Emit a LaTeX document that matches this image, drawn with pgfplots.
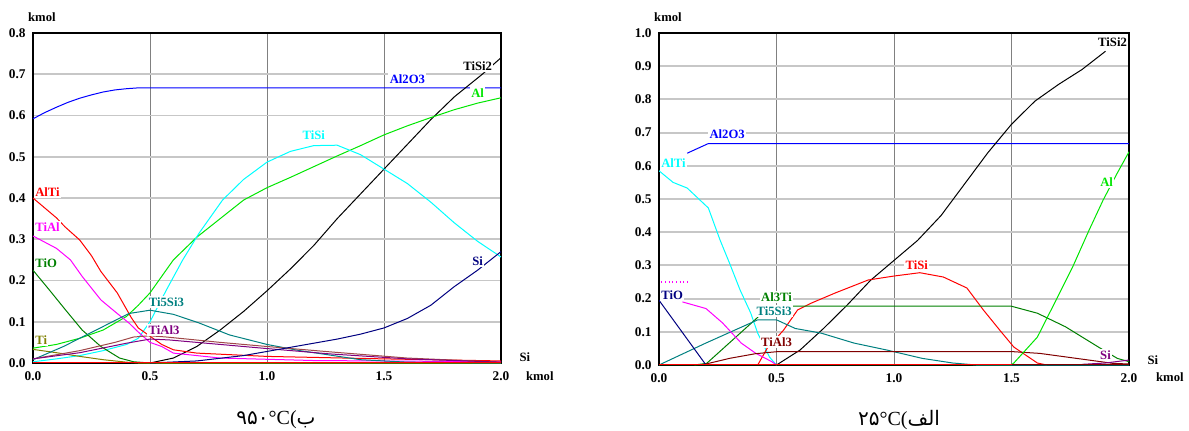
\documentclass[border=0pt]{standalone}
\usepackage{pgfplots}
\pgfplotsset{compat=1.18}
\usepackage{fontspec}
\setmainfont{Liberation Serif}
\newfontfamily\arabicfont[Script=Arabic]{DejaVu Sans}
\TeXXeTstate=1
\definecolor{cAlOx}{HTML}{0000FF}
\definecolor{cAl}{HTML}{00E600}
\definecolor{cTiSi}{HTML}{00FFFF}
\definecolor{cAlTi}{HTML}{FF0000}
\definecolor{cTiAl}{HTML}{FF00FF}
\definecolor{cDG}{HTML}{008000}
\definecolor{cOl}{HTML}{808000}
\definecolor{cTeal}{HTML}{008080}
\definecolor{cPur}{HTML}{800080}
\definecolor{cNavy}{HTML}{000080}
\definecolor{cMar}{HTML}{800000}
\definecolor{cRose}{HTML}{A04848}
\tikzset{lab/.style={font=\bfseries\fontsize{9.5}{10}\selectfont, fill=white, inner sep=1pt},
  axl/.style={font=\bfseries\fontsize{9.5}{10}\selectfont, inner sep=0pt}}
\pgfplotsset{
  chem/.style={
    scale only axis,
    clip mode=individual,
    xmin=0, xmax=2,
    xtick={0,0.5,1,1.5,2},
    grid=major,
    x grid style={draw=gray, line width=0.7pt},
    y grid style={draw=black!22, line width=1.4pt},
    major tick length=0pt,
    tick style={draw=none},
    axis line style={line width=1.4pt, black},
    /pgf/number format/assume math mode=true,
    /pgf/number format/.cd, fixed, fixed zerofill, precision=1,
    /pgfplots/.cd,
    tick label style={font=\bfseries\fontsize{10}{10}\selectfont},
    yticklabel style={xshift=-2pt},
    xticklabel style={yshift=-3pt},
    every axis plot/.append style={line width=0.75pt, mark=none},
  },
}
\begin{document}
\begin{tikzpicture}
\useasboundingbox (0,0) rectangle (891.75pt,322.5pt);
%% ---------------- LEFT: 950 C ----------------
\begin{axis}[chem, at={(24.75pt,50.25pt)}, anchor=south west,
  width=351pt, height=247.5pt, ymin=0, ymax=0.8,
  ytick={0,0.1,0.2,0.3,0.4,0.5,0.6,0.7,0.8}]
\addplot[cAlOx] coordinates {(0,0.592)(0.05,0.607)(0.1,0.62)(0.15,0.632)(0.2,0.642)(0.25,0.65)(0.3,0.657)(0.35,0.662)(0.4,0.665)(0.45,0.667)(2.0,0.667)};
\addplot[black] coordinates {(0.5,0)(0.6,0.012)(0.7,0.04)(0.8,0.08)(0.9,0.125)(1.0,0.175)(1.1,0.228)(1.2,0.285)(1.3,0.35)(1.4,0.41)(1.5,0.47)(1.6,0.53)(1.7,0.59)(1.8,0.645)(1.92,0.70)(2.0,0.74)};
\addplot[cAl] coordinates {(0,0.036)(0.1,0.045)(0.2,0.06)(0.3,0.08)(0.4,0.113)(0.45,0.14)(0.5,0.17)(0.6,0.25)(0.7,0.305)(0.8,0.35)(0.9,0.395)(1.0,0.425)(1.1,0.45)(1.2,0.476)(1.3,0.502)(1.4,0.527)(1.5,0.553)(1.6,0.575)(1.7,0.595)(1.8,0.614)(1.9,0.63)(2.0,0.643)};
\addplot[cTiSi] coordinates {(0,0.003)(0.1,0.01)(0.2,0.018)(0.3,0.03)(0.4,0.045)(0.45,0.06)(0.5,0.1)(0.57,0.177)(0.64,0.25)(0.71,0.315)(0.81,0.395)(0.9,0.445)(1.0,0.487)(1.1,0.513)(1.2,0.527)(1.3,0.528)(1.4,0.505)(1.5,0.47)(1.6,0.435)(1.7,0.39)(1.8,0.34)(1.9,0.295)(2.0,0.257)};
\addplot[cAlTi] coordinates {(0,0.40)(0.1,0.352)(0.137,0.33)(0.2,0.298)(0.25,0.26)(0.29,0.222)(0.36,0.17)(0.42,0.11)(0.45,0.085)(0.5,0.065)(0.55,0.045)(0.6,0.032)(0.7,0.024)(1.0,0.016)(1.5,0.01)(2.0,0.005)};
\addplot[cTiAl] coordinates {(0,0.308)(0.1,0.278)(0.16,0.25)(0.21,0.21)(0.29,0.153)(0.36,0.12)(0.41,0.097)(0.45,0.075)(0.5,0.05)(0.55,0.04)(0.6,0.024)(0.8,0.012)(1.2,0.006)(2.0,0.003)};
\addplot[cDG] coordinates {(0,0.225)(0.07,0.177)(0.14,0.128)(0.21,0.08)(0.29,0.04)(0.37,0.012)(0.43,0.003)(0.5,0)(2.0,0)};
\addplot[cOl] coordinates {(0,0.033)(0.1,0.025)(0.2,0.016)(0.3,0.008)(0.4,0.002)(0.45,0)(2,0)};
\addplot[cTeal] coordinates {(0,0.008)(0.13,0.04)(0.27,0.08)(0.41,0.12)(0.5,0.128)(0.6,0.118)(0.71,0.097)(0.84,0.068)(1.0,0.045)(1.14,0.03)(1.26,0.02)(1.4,0.008)(1.6,0.002)(2.0,0)};
\addplot[cRose] coordinates {(0,0.01)(0.2,0.03)(0.35,0.05)(0.43,0.063)(0.5,0.066)(0.57,0.063)(0.8,0.05)(1.0,0.04)(1.27,0.027)(1.6,0.012)(2.0,0.002)};
\addplot[cPur] coordinates {(0,0.01)(0.2,0.025)(0.4,0.048)(0.5,0.058)(0.58,0.056)(0.8,0.045)(1.0,0.035)(1.27,0.022)(1.6,0.01)(2.0,0.002)};
\addplot[cNavy] coordinates {(0.5,0)(0.7,0.005)(0.9,0.018)(1.0,0.028)(1.1,0.038)(1.2,0.048)(1.3,0.058)(1.4,0.07)(1.5,0.085)(1.6,0.108)(1.7,0.14)(1.8,0.185)(1.9,0.225)(2.0,0.27)};
\addplot[cAlTi, line width=1.2pt] coordinates {(0,0.001)(2,0.001)};
\node[lab, text=cAlOx] at (axis cs:1.6,0.689) {Al2O3};
\node[lab, text=black] at (axis cs:1.9,0.72) {TiSi2};
\node[lab, text=cAl] at (axis cs:1.9,0.655) {Al};
\node[lab, text=cTiSi] at (axis cs:1.2,0.553) {TiSi};
\node[lab, text=cNavy] at (axis cs:1.9,0.247) {Si};
\node[lab, text=cAlTi, anchor=west] at (axis cs:0.003,0.415) {AlTi};
\node[lab, text=cTiAl, anchor=west] at (axis cs:0.003,0.33) {TiAl};
\node[lab, text=cDG, anchor=west] at (axis cs:0.003,0.242) {TiO};
\node[lab, text=cTeal] at (axis cs:0.57,0.148) {Ti5Si3};
\node[lab, text=cPur] at (axis cs:0.56,0.08) {TiAl3};
\node[lab, text=cOl, anchor=west] at (axis cs:0.003,0.056) {Ti};
\node[axl] at (axis description cs:0.019,1.048) {kmol};
\node[axl] at (axis description cs:1.051,0.017) {Si};
\node[axl] at (axis description cs:1.083,-0.039) {kmol};
\end{axis}
%% ---------------- RIGHT: 25 C ----------------
\begin{axis}[chem, at={(494.25pt,48.75pt)}, anchor=south west,
  width=352.5pt, height=249pt, ymin=0, ymax=1.0,
  ytick={0,0.1,0.2,0.3,0.4,0.5,0.6,0.7,0.8,0.9,1.0}]
\addplot[cAlOx] coordinates {(0.12,0.638)(0.21,0.667)(2.0,0.667)};
\addplot[cTiSi] coordinates {(0,0.585)(0.06,0.55)(0.12,0.533)(0.21,0.473)(0.26,0.376)(0.30,0.307)(0.345,0.226)(0.39,0.157)(0.42,0.096)(0.47,0.024)(0.5,0)};
\addplot[black] coordinates {(0.5,0)(0.6,0.045)(0.7,0.11)(0.8,0.18)(0.9,0.255)(1.0,0.315)(1.1,0.375)(1.2,0.45)(1.3,0.545)(1.4,0.64)(1.5,0.725)(1.6,0.795)(1.7,0.845)(1.8,0.89)(1.9,0.945)};
\addplot[cAlTi] coordinates {(0.42,0)(0.46,0.05)(0.53,0.105)(0.59,0.166)(0.65,0.187)(0.75,0.217)(0.89,0.256)(1.0,0.268)(1.11,0.278)(1.21,0.265)(1.31,0.232)(1.38,0.166)(1.45,0.105)(1.51,0.054)(1.61,0.006)(1.65,0)};
\addplot[cDG] coordinates {(0.15,0)(0.203,0.005)(0.416,0.141)(0.47,0.177)(1.5,0.177)(1.61,0.156)(1.73,0.115)(1.87,0.054)(1.95,0.02)(2.0,0.01)};
\addplot[cTeal] coordinates {(0,0)(0.196,0.065)(0.42,0.136)(0.5,0.136)(0.58,0.11)(0.69,0.096)(0.83,0.066)(0.97,0.045)(1.12,0.02)(1.25,0.006)(1.35,0)(2.0,0)};
\addplot[cNavy] coordinates {(0,0.195)(0.2,0)};
\addplot[cTiAl] coordinates {(0.1,0.19)(0.2,0.17)(0.27,0.127)(0.35,0.066)(0.41,0.036)(0.48,0.01)(0.5,0)};
\addplot[cTiAl, dotted, line width=1pt] coordinates {(0.01,0.25)(0.13,0.25)};
\addplot[cMar] coordinates {(0.2,0.003)(0.3,0.02)(0.41,0.034)(0.5,0.04)(1.51,0.04)(1.62,0.035)(1.88,0.01)(1.93,0.005)(2.0,0.003)};
\addplot[cAl] coordinates {(0,0.001)(1.5,0.001)(1.51,0.006)(1.61,0.084)(1.69,0.196)(1.76,0.295)(1.83,0.406)(1.89,0.497)(1.95,0.578)(2.0,0.642)};
\addplot[cPur] coordinates {(1.8,0.002)(1.9,0.006)(2.0,0.015)};
\addplot[cAlTi, line width=1.2pt] coordinates {(0,0.001)(1.5,0.001)};
\addplot[cMar, line width=1.2pt] coordinates {(1.5,0.001)(2,0.001)};
\node[lab, text=cAlOx] at (axis cs:0.29,0.696) {Al2O3};
\node[lab, text=cTiSi, anchor=west] at (axis cs:0.003,0.608) {AlTi};
\node[lab, text=black] at (axis cs:1.93,0.973) {TiSi2};
\node[lab, text=cAl] at (axis cs:1.905,0.55) {Al};
\node[lab, text=cAlTi] at (axis cs:1.097,0.30) {TiSi};
\node[lab, text=cDG] at (axis cs:0.50,0.205) {Al3Ti};
\node[lab, text=cTeal] at (axis cs:0.49,0.163) {Ti5Si3};
\node[lab, text=cMar] at (axis cs:0.50,0.07) {TiAl3};
\node[lab, text=cNavy, anchor=west] at (axis cs:0.003,0.21) {TiO};
\node[lab, text=cPur] at (axis cs:1.9,0.03) {Si};
\node[axl] at (axis description cs:0.019,1.048) {kmol};
\node[axl] at (axis description cs:1.051,0.015) {Si};
\node[axl] at (axis description cs:1.087,-0.036) {kmol};
\end{axis}
%% captions
\node[font=\fontsize{15}{16}\selectfont, inner sep=0pt] at (207pt,7.5pt) {{\arabicfont ۹۵۰}°C({\arabicfont ب}};
\node[font=\fontsize{15}{16}\selectfont, inner sep=0pt] at (674.25pt,7.5pt) {{\arabicfont ۲۵}°C({\arabicfont\beginR الف\endR}};
\end{tikzpicture}
\end{document}
